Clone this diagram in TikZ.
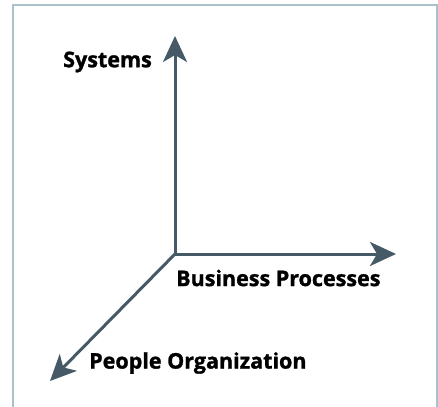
\documentclass[tikz,border=0pt]{standalone}
\usepackage{fontspec}
\setmainfont{Open Sans}[FakeBold=1.3]
\usetikzlibrary{arrows.meta}
\definecolor{axis}{HTML}{455A66}
\definecolor{frame}{HTML}{A9C1CA}
\begin{document}
\begin{tikzpicture}[x=1pt,y=-1pt,
  axisline/.style={draw=axis, line width=3pt, -{Stealth[length=26pt,width=24pt,inset=7pt]}},
  lbl/.style={font=\fontsize{21.5}{24}\selectfont\bfseries, text=black, inner sep=0pt}]
\useasboundingbox (0,0) rectangle (438,406);
\draw[frame, line width=2pt] (13,410) -- (13,5) -- (437,5) -- (437,410);
\coordinate (o) at (175,254);
\coordinate (sys) at (175,36);
\coordinate (bp) at (396,254);
\coordinate (po) at (50,381);
\draw[axisline] (o) -- (sys);
\draw[axisline] (o) -- (bp);
\draw[axisline] (o) -- (po);
\node[lbl, anchor=east] (tsys) at (152,62) {Systems};
\node[lbl, anchor=west] (tbp) at (176,278) {Business Processes};
\node[lbl, anchor=west] (tpo) at (89,363) {People Organization};
\end{tikzpicture}
\end{document}
